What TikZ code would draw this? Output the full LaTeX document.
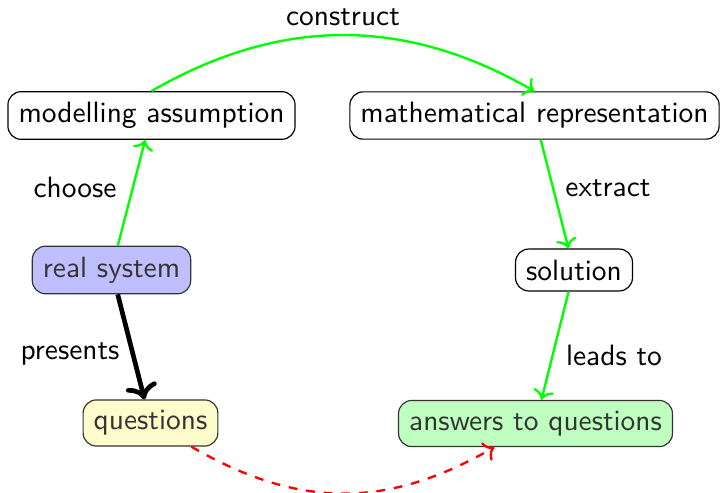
\documentclass[tikz,border=0pt]{standalone}
\usetikzlibrary{arrows.meta}
\begin{document}
\begin{tikzpicture}[x=0.34pt,y=-0.34pt,font=\sffamily,
  box/.style={draw,rounded corners=4.5pt,inner sep=3.6pt},
  lbl/.style={inner sep=0pt},
  garrow/.style={->,draw=green,thick},
]
\useasboundingbox (0,0) rectangle (720,493);
\node[box] (ma) at (151.5,115.5) {modelling assumption};
\node[box] (mr) at (534.5,115.5) {mathematical representation};
\node[box,fill=blue!25,draw=black!80,text=black!80] (rs) at (111.5,270) {real system};
\node[box] (so) at (574,270) {solution};
\node[box,fill=yellow!20,draw=black!80,text=black!80] (qu) at (150.5,423) {questions};
\node[box,fill=green!25,draw=black!80,text=black!80] (an) at (535.5,423.5) {answers to questions};

\node[lbl] (lconstruct) at (343,17) {construct};
\node[lbl] (lchoose) at (75,187) {choose};
\node[lbl] (lextract) at (608,188) {extract};
\node[lbl] (lpresents) at (70,354) {presents};
\node[lbl] (lleads) at (614,355) {leads to};

\draw[garrow] (rs) -- (ma);
\draw[garrow] (ma.north) to[bend left=30] (mr.north);
\draw[garrow] (mr) -- (so);
\draw[garrow] (so) -- (an);
\draw[->,ultra thick] (rs) -- (qu);
\draw[->,red,thick,dashed] (qu) to[bend right=30,looseness=1.05] (an);
\end{tikzpicture}
\end{document}
